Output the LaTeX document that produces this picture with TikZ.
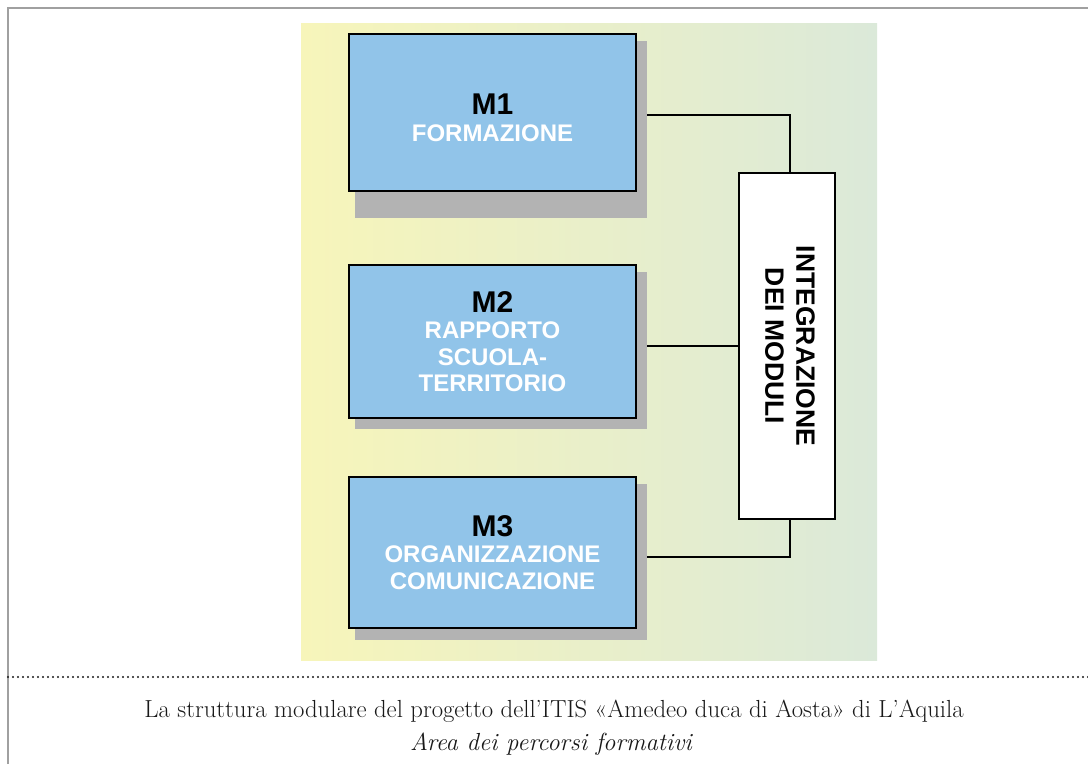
\documentclass[tikz,border=0pt]{standalone}
\usepackage{fontspec}
\usepackage{graphicx}
\usetikzlibrary{positioning,calc,backgrounds}
\newfontfamily\helv{Liberation Sans}
\definecolor{panelyellow}{RGB}{247,245,186}
\definecolor{panelgreen}{RGB}{219,233,217}
\definecolor{boxblue}{RGB}{145,196,233}
\definecolor{shadowgray}{RGB}{179,179,179}
\definecolor{framegray}{RGB}{160,160,160}
\definecolor{captiontext}{RGB}{25,25,25}
\newcommand{\modtitle}[1]{{\color{black}\fontsize{30}{26.5}\selectfont #1}}
\tikzset{
    modulo/.style={
        rectangle,
        draw=black,
        line width=1.4pt,
        fill=boxblue,
        minimum width=287pt,
        inner sep=0pt,
        align=center,
        text=white,
        font=\helv\bfseries\fontsize{24}{26.5}\selectfont,
    },
    integbox/.style={
        rectangle,
        draw=black,
        line width=1.4pt,
        fill=white,
        minimum width=96pt,
        minimum height=346pt,
        inner sep=0pt,
        font=\helv\bfseries\fontsize{26.5}{31}\selectfont,
    },
    ombra/.style={fill=shadowgray},
    link/.style={draw=black, line width=1.2pt},
    caption/.style={
        inner sep=0pt,
        anchor=base,
        text=captiontext,
        font=\fontsize{24.7}{30}\selectfont,
    },
}

\begin{document}
\begin{tikzpicture}[x=1pt,y=-1pt]
    \useasboundingbox (0,0) rectangle (1088,764);
    \begin{scope}[on background layer]
        \fill[left color=panelyellow, right color=panelgreen] (301,23) rectangle (877,660);
    \end{scope}
    % frame
    \draw[framegray, line width=2.2pt] (8,764) -- (8,8) -- (1088,8);
    \node [modulo, minimum height=157pt] (m1) at (492.5,112.5) {\modtitle{\rule{0pt}{31pt}M1}\\ FORMAZIONE};
    \node [modulo, minimum height=153pt] (m2) at (492.5,341.5) {\modtitle{M2}\\ RAPPORTO\\ SCUOLA-\\ TERRITORIO};
    \node [modulo, minimum height=151pt] (m3) at (492.5,552.5) {\modtitle{M3}\\ ORGANIZZAZIONE\\ COMUNICAZIONE};
    \node [integbox] (integ) at (787,346) {\rotatebox{-90}{\begin{tabular}{@{}c@{}}INTEGRAZIONE\\ DEI MODULI\end{tabular}}};
    \begin{scope}[on background layer]
        \draw[link] ([yshift=-2.5pt]m1.east) -| ([xshift=3pt]integ.north);
        \draw[link] (integ.west -| m2.east) -- (integ.west);
        \draw[link] ([yshift=-4.5pt]m3.east) -| ([xshift=3pt]integ.south);
        \fill[ombra] ($(m1.north west)+(7,8)$) rectangle ($(m1.south east)+(10,26)$);
        \fill[ombra] ($(m2.north west)+(7,8)$) rectangle ($(m2.south east)+(10,10)$);
        \fill[ombra] ($(m3.north west)+(7,8)$) rectangle ($(m3.south east)+(10,11)$);
    \end{scope}
    \draw[captiontext, line width=2.4pt, line cap=round, dash pattern=on 0pt off 5pt] (8,677) -- (1088,677);
    \node [caption] (cap1) at (554,717) {La struttura modulare del progetto dell’ITIS «Amedeo duca di Aosta» di L’Aquila};
    \node [caption, font=\fontsize{24.7}{30}\selectfont\itshape] (cap2) at (551,750) {Area dei percorsi formativi};
\end{tikzpicture}
\end{document}
